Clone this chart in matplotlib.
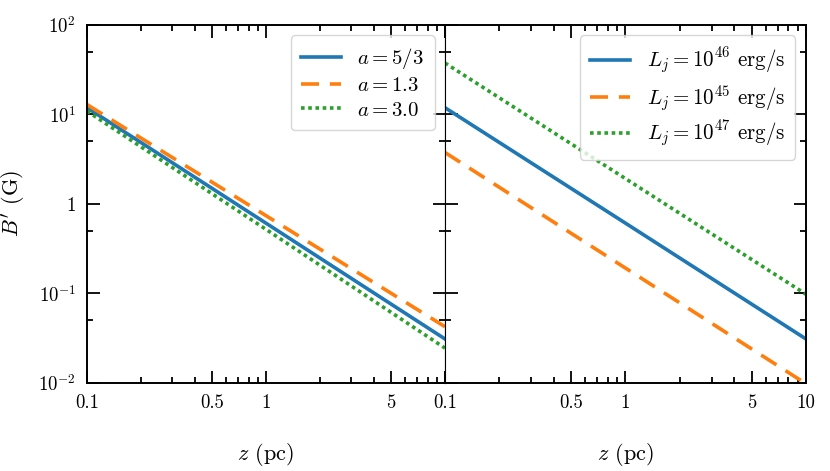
import numpy as np
import matplotlib
matplotlib.use("Agg")
import matplotlib.pyplot as plt
from matplotlib.ticker import LogLocator, NullFormatter, FixedLocator

plt.rcParams['font.family'] = 'serif'
plt.rcParams['font.serif'] = ['cmr10', 'DejaVu Serif']
plt.rcParams['mathtext.fontset'] = 'cm'
plt.rcParams['axes.formatter.use_mathtext'] = True
plt.rcParams['font.size'] = 13.5

# values at z = 0.1, 1, 10 pc
z = [0.1, 1.0, 10.0]

# left panel: varying a
b_a53 = [11.9, 0.61, 0.031]
b_a13 = [12.9, 0.74, 0.0425]
b_a30 = [10.9, 0.52, 0.0245]
labels_a = [r'$a = 5/3$', r'$a = 1.3$', r'$a = 3.0$']

# right panel: varying jet power
b_l46 = [11.9, 0.61, 0.031]
b_l45 = [3.76, 0.192, 0.0098]
b_l47 = [37.6, 1.92, 0.098]
labels_l = [r'$L_j = 10^{46}$ erg/s', r'$L_j = 10^{45}$ erg/s', r'$L_j = 10^{47}$ erg/s']

xtick_vals = [0.1, 0.5, 1, 5, 10]
xtick_left = ['0.1', '0.5', '1', '5', '']
xtick_right = ['0.1', '0.5', '1', '5', '10']
ytick_vals = [1e-2, 1e-1, 1, 1e1, 1e2]
ytick_labels = [r'$10^{-2}$', r'$10^{-1}$', r'$1$', r'$10^{1}$', r'$10^{2}$']

colors = ['#1f77b4', '#ff7f0e', '#2ca02c']
styles = ['-', (0, (5, 3)), (0, (1, 1))]

fig = plt.figure(figsize=(8.3, 4.71), dpi=100)
ax1 = fig.add_axes([0.1048, 0.187, 0.4313, 0.760])
ax2 = fig.add_axes([0.5361, 0.187, 0.4349, 0.760], sharey=ax1)

panels = [(ax1, [b_a53, b_a13, b_a30], labels_a, 15, 0.28),
          (ax2, [b_l46, b_l45, b_l47], labels_l, 15.1, 0.3)]
for ax, series, labels, lfs, lsp in panels:
    for y, lab, c, ls in zip(series, labels, colors, styles):
        ax.plot(z, y, color=c, linestyle=ls, lw=2.6, label=lab)
    ax.set_xscale('log')
    ax.set_yscale('log')
    ax.set_xlim(0.1, 10)
    ax.set_ylim(1e-2, 1e2)
    ax.xaxis.set_major_locator(FixedLocator(xtick_vals))
    ax.xaxis.set_minor_locator(FixedLocator([0.2, 0.3, 0.4, 0.6, 0.7, 0.8, 0.9,
                                             2, 3, 4, 6, 7, 8, 9]))
    ax.xaxis.set_minor_formatter(NullFormatter())
    ax.yaxis.set_major_locator(FixedLocator(ytick_vals))
    ax.yaxis.set_minor_locator(LogLocator(base=10, subs=[5]))
    ax.yaxis.set_minor_formatter(NullFormatter())
    ax.tick_params(which='both', direction='in', top=True, right=True, width=1.3)
    ax.tick_params(which='major', length=9, pad=8)
    ax.tick_params(which='minor', length=4.5)
    for s in ax.spines.values():
        s.set_linewidth(1.4)
    ax.set_xlabel(r'$z$ (pc)', fontsize=16, labelpad=21)
    ax.legend(loc='upper right', fontsize=lfs, handlelength=1.9,
              borderpad=0.5, labelspacing=lsp, framealpha=0.8,
              edgecolor='#cccccc', fancybox=True)

ax1.spines['right'].set_linewidth(0.8)
ax2.spines['left'].set_linewidth(0.8)
ax1.set_xticklabels(xtick_left)
ax2.set_xticklabels(xtick_right)
ax1.set_yticklabels(ytick_labels)
plt.setp(ax2.get_yticklabels(), visible=False)
ax1.set_ylabel(r"$B'$ (G)", fontsize=16, labelpad=8)

fig.savefig('out.png', dpi=100)
